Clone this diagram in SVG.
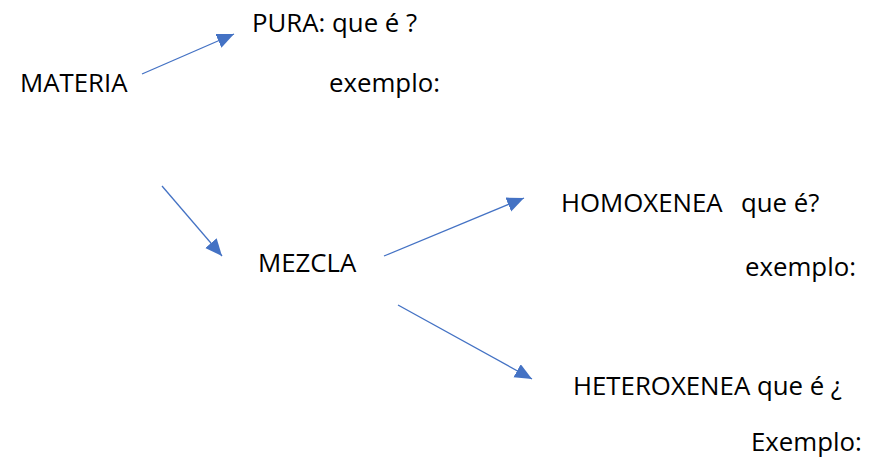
<svg xmlns="http://www.w3.org/2000/svg" width="873" height="464" viewBox="0 0 873 464">
<style>
text{font-family:"Open Sans","Noto Sans","Liberation Sans",sans-serif;font-size:25.8px;fill:#000}
.c{stroke:#4472C4;stroke-width:1.3;fill:none}
</style>
<defs>
<marker id="ah" markerUnits="userSpaceOnUse" markerWidth="18" markerHeight="16" refX="17" refY="7.5" orient="auto">
<path d="M0,0 L17,7.5 L0,15 Z" fill="#4472C4"/>
</marker>
</defs>
<rect width="873" height="464" fill="#fff"/>
<g id="connectors">
<line class="c" x1="142" y1="74" x2="234" y2="34" marker-end="url(#ah)"/>
<line class="c" x1="162" y1="186" x2="222" y2="256" marker-end="url(#ah)"/>
<line class="c" x1="384" y1="256" x2="524" y2="198" marker-end="url(#ah)"/>
<line class="c" x1="398" y1="305" x2="532" y2="379" marker-end="url(#ah)"/>
</g>
<g id="materia"><text x="20" y="92">MATERIA</text></g>
<g id="pura"><text x="252" y="32">PURA: que é ?</text><text x="329" y="92">exemplo:</text></g>
<g id="mezcla"><text x="258" y="272">MEZCLA</text></g>
<g id="homoxenea"><text x="561" y="212">HOMOXENEA</text><text x="741" y="212">que é?</text><text x="745" y="276">exemplo:</text></g>
<g id="heteroxenea"><text x="573" y="395">HETEROXENEA que é ¿</text><text x="751" y="451">Exemplo:</text></g>
</svg>
